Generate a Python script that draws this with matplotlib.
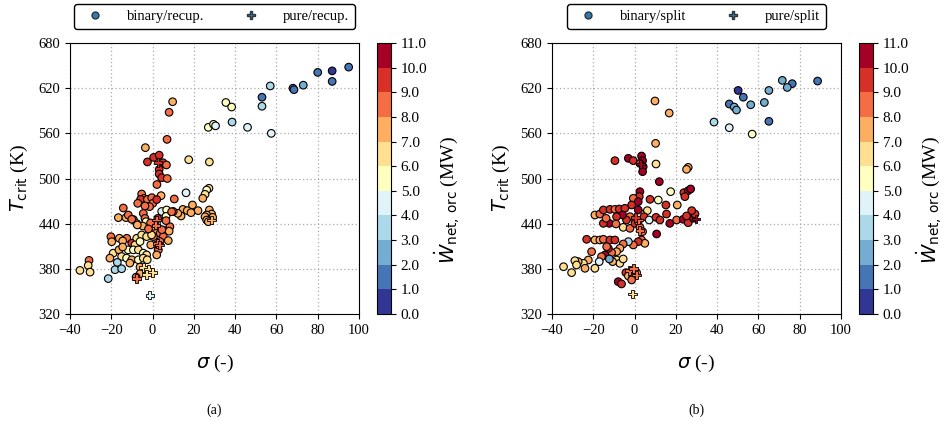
import numpy as np
import matplotlib
matplotlib.use('Agg')
import matplotlib.pyplot as plt
from matplotlib.colors import BoundaryNorm
from matplotlib.lines import Line2D

plt.rcParams['font.family'] = ['Liberation Serif', 'DejaVu Serif']
plt.rcParams['mathtext.fontset'] = 'dejavusans'

# (a) binary fluids, recuperated cycle: sigma, T_crit, W_net
a_bin_sigma = [95, 87, 87, 80, 73, 68, 68.5, 57, 53, 53, 38.5, 46, 57.5, 35.5, 38.3, 27, 29.5, 30.5,
               17.5, 27.5, 9.7, 8, 7, -3.5, -2.5, 0.5, 3.2, 5, 6.7, 3.2, 3.2, 4.4, 7.1, 2.1,
               16.2, 27.3, 26.2, 25.4, 24.3, 10.5, 4.1, -5.3, -4.2, -5.8, -7.2, -2.5, -0.4, 0.1, -1.5, -3.7, 2.0,
               -14.2, -16.6, -12.9, -9.3, -7.7, -11.8, -10.1, -4.5, -3.7, -3.2, -4.8, -7.4,
               14.7, 16.8, 19.3, 22.0, 18.6, 13.8, 12.2, 27.5, 28.6, 26.2, 29.1, 25.4, 26.2, 27,
               4.4, 6.8, 10.0, 5.5, 6.5, 8.4, 1.2, 3.6, 5.2, 7.6, 3.6, 2, 2.8, 2, -0.9, 0.4, 9.2,
               -20.2, -19.8, -16.1, -12.5, -14.5, -10.1, -7.7, -5.3, -2.9, -0.5, -8.5, -6.1,
               -11.8, -9.3, -6.9, -4.5, -2.9, -19.1, -20.7, -16.3, -15, -12.6, -10.1, -6.9, -4.5, -2.6, -11.0,
               -17.1, -18.2, -15, -21.5, -30.8, -35.2, -31.2, -30.3, -6.1, -6.1, -8, -14.5,
               0.5, 2.5, 6.5, 8, -1, 4.5, -2]
a_bin_tcrit = [648, 643, 629, 641, 624, 620, 618, 623, 608, 596, 575, 568, 560, 601, 595, 568, 572, 570,
               525, 522, 602, 588, 552, 541, 522, 528, 531, 521, 518, 512, 506, 501, 500, 492,
               481, 487, 484.7, 479, 473.7, 472.8, 477.2, 479.4, 473.6, 472.3, 467, 472.3, 474.5, 467, 462.6, 463.5, 472,
               460.8, 448, 448, 445.4, 440.1, 451.5, 445.8, 453.6, 447, 442.6, 436.9, 438.3,
               459, 457.3, 464.8, 457.3, 454.6, 450.2, 453.7, 458.2, 452.8, 451.5, 448.4, 449.2, 444.8, 442.6,
               456.2, 458.2, 456.2, 440.5, 449.7, 436, 431.6, 427.2, 422.8, 417.5, 416.2, 411.8, 405.2, 398.5, 411.8, 422.8, 455.8,
               422.7, 416, 420.6, 420.6, 417, 414, 420.6, 425, 422.8, 425, 411.8, 416.2,
               405.2, 405.2, 405.2, 400.8, 398.5, 400.8, 394.2, 405.2, 396.4, 394.2, 392, 392, 394.2, 392, 387.6,
               388.5, 378.8, 380.1, 367, 391.2, 377.9, 384.5, 375.6, 382.3, 373.4, 369, 409,
               436.5, 447, 444, 430, 441, 432, 433]
a_bin_w = [1.5, 0.5, 1.5, 1.5, 2.5, 1.5, 1.5, 3.5, 1.5, 3.0, 3.5, 4.5, 4.5, 5.5, 5.5, 5.5, 5.5, 4.5,
           6.5, 6.5, 7.5, 8.5, 8.5, 7.5, 9.5, 9.5, 9.5, 9.5, 8.5, 9.5, 9.5, 9.5, 8.5, 8.5,
           4.5, 6.5, 5.5, 6.5, 7.5, 8.5, 7.5, 8.5, 8.5, 9.5, 8.5, 8.5, 8.5, 8.5, 8.5, 8.5, 9.5,
           8.5, 7.5, 7.5, 8.5, 7.5, 8.5, 8.5, 8.5, 8.5, 5.5, 7.5, 7.5,
           7.5, 7.5, 7.5, 7.5, 7.5, 7.5, 7.5, 7.5, 7.5, 7.5, 7.5, 7.5, 7.5, 7.5,
           4.5, 5.5, 8.5, 4.5, 5.5, 8.5, 7.5, 8.5, 8.5, 7.5, 8.5, 8.5, 8.5, 7.5, 7.5, 8.5, 8.5,
           8.5, 7.5, 7.5, 8.5, 7.5, 9.5, 6.5, 6.5, 6.5, 6.5, 6.5, 5.5,
           5.5, 5.5, 6.5, 5.5, 6.5, 6.5, 7.5, 7.5, 6.5, 5.5, 7.5, 5.5, 6.5, 6.5, 7.5,
           3.5, 3.5, 3.5, 3.5, 8.5, 6.5, 6.5, 6.5, 7.5, 7.5, 8.5, 7.5,
           7.5, 9.5, 8.5, 7.5, 8.5, 8.5, 8.5]

# (a) pure fluids, recuperated cycle
a_pure_sigma = [2.6, 2.0, 1.6, 2.3, 3.4, 28.6, -7.7, -4.5, -2.1, 0, -2.9, -1.3]
a_pure_tcrit = [521, 444.8, 438, 414, 411.7, 444.8, 367, 381.4, 379.2, 374.8, 372.5, 345]
a_pure_w = [9.5, 8.5, 8.5, 8.5, 8.5, 7.5, 8.5, 6.5, 6.5, 6.5, 6.5, 4.5]

# (b) binary fluids, split cycle
b_bin_sigma = [88.7, 71.6, 76.4, 74, 65.1, 50.2, 52.7, 45.9, 48.3, 49.4, 56.3, 62.9, 65.1, 38.5, 45.9, 57,
               9.9, 16.8, 10.2, -9.5, -3.0, -0.6, 3.4, 3.9, 2.6, 4.2, 3.9, 10.4, 26.0, 25.2, 12.0,
               17.5, 23.9, 26.0, 27.2, 24.4, 20.7, 11.5, 15.2, 2.6, 2.3, -0.6, 1.8, -1.4, 7.5,
               6.2, 3.0, 1.8, 4.6, 7.1, 10.4, 12.3, 15.5, 17.1, 20.4, 23.6, 26.0, 28.5, 29.3, 27.7, 25.2, 10.7,
               -19.2, -16.8, -15.1, -11.9, -9.5, -7.4, -4.7, -2.2, -3.9, -5.8, -8.7, -12.2, -15.1, -13.8,
               -9.0, -5.5, -2.2, 0.2, 1.8, 2.6, 3.9, 3.4, 5.0, 1.8, -0.6, -3.0, -5.5, -7.1, -8.7,
               -11.1, -12.7, -14.3, -16.0, -20.8, -23.2, -19.2, -16.8, -15.1, -11.9, -9.5, -13.5,
               -22.4, -24.8, -27.3, -28.9, -24.0, -19.2, -28.1, -30.5, -34.4, -8.7, -7.1, -5.5, -10.6,
               -12.2, -17.1, -4.2, 1.0, -3.0, -0.9, -7.9, -6.3, -1.4]
b_bin_tcrit = [629.5, 630.4, 626, 621, 617, 617, 608, 599, 595, 591, 598, 601, 576, 575, 567.5, 559,
               603, 587, 546.7, 523.7, 526.8, 523.7, 529.9, 523.7, 520.1, 515.7, 509.1, 519.3, 514.8, 512.2, 495.8,
               482.5, 481.2, 483.8, 486.1, 475.9, 464.8, 471.4, 464.8, 482.5, 475.9, 473.7, 469.2, 464.8, 472.3,
               457.3, 452.8, 458.2, 449.3, 444.9, 448.4, 444.9, 452.8, 440.4, 444.9, 445.8, 441.3, 447.1, 452.8, 457.3, 450.2, 426.3,
               451.5, 452.8, 458.2, 459.0, 459.0, 459.5, 460.4, 449.3, 444.9, 451.5, 449.3, 440.4, 440.4, 447.1,
               439.6, 435.1, 433.8, 440.4, 442.7, 435.1, 429.4, 418.3, 413.9, 416.1, 411.7, 416.1, 413.0, 407.2, 402.8,
               401.5, 407.2, 398.4, 396.2, 402.8, 419.2, 418.3, 418.3, 419.2, 418.3, 418.3, 409.4,
               391.7, 387.3, 389.5, 390.8, 380.7, 380.7, 385.1, 374.9, 382.8, 391.7, 387.3, 393.1, 389.5,
               393.1, 389.5, 374.9, 374.9, 370.5, 368.7, 362.9, 359.9, 365.2]
b_bin_w = [1.5, 2.5, 1.5, 2.5, 2.5, 0.5, 1.5, 1.5, 2.5, 2.5, 2.5, 2.5, 1.5, 3.5, 4.5, 5.5,
           7.5, 7.5, 7.5, 9.5, 10.5, 9.5, 10.5, 10.5, 9.5, 10.5, 10.5, 6.5, 7.5, 7.5, 10.5,
           5.5, 9.5, 10.5, 10.5, 9.5, 7.5, 5.5, 9.5, 10.5, 9.5, 8.5, 10.5, 9.5, 9.5,
           6.5, 5.5, 10.5, 9.5, 4.5, 9.5, 9.5, 9.5, 10.5, 8.5, 10.5, 9.5, 10.5, 9.5, 9.5, 9.5, 10.5,
           7.5, 8.5, 9.5, 9.5, 8.5, 9.5, 9.5, 8.5, 9.5, 10.5, 9.5, 10.5, 9.5, 8.5,
           8.5, 6.5, 8.5, 9.5, 8.5, 8.5, 8.5, 8.5, 7.5, 9.5, 8.5, 3.5, 8.5, 7.5, 7.5,
           8.5, 9.5, 10.5, 8.5, 8.5, 9.5, 7.5, 7.5, 8.5, 9.5, 9.5, 8.5,
           7.5, 6.5, 7.5, 6.5, 7.5, 6.5, 6.5, 6.5, 6.5, 6.5, 6.5, 6.5, 7.5,
           2.5, 4.5, 9.5, 7.5, 7.5, 7.5, 10.5, 9.5, 8.5]

# (b) pure fluids, split cycle
b_pure_sigma = [3.0, 29.8, -2.6, -0.6, 1.0, -0.9, 1.8, 2.6, 0.5]
b_pure_tcrit = [519.3, 446.2, 377.6, 380.7, 371.8, 346.6, 444.9, 431, 448]
b_pure_w = [10.5, 10.5, 8.5, 8.5, 8.5, 6.5, 8.5, 8.5, 9.5]

levels = np.arange(0, 12, 1)
cmap = plt.get_cmap('RdYlBu_r', 11)
norm = BoundaryNorm(levels, cmap.N)

fig = plt.figure(figsize=(9.53, 4.22), dpi=100)
ax_a = fig.add_axes([0.0735, 0.256, 0.3032, 0.642])
cax_a = fig.add_axes([0.3955, 0.256, 0.0147, 0.642])
ax_b = fig.add_axes([0.5792, 0.256, 0.3032, 0.642])
cax_b = fig.add_axes([0.9012, 0.256, 0.0147, 0.642])

panels = [(ax_a, cax_a, a_bin_sigma, a_bin_tcrit, a_bin_w, a_pure_sigma, a_pure_tcrit, a_pure_w,
           'binary/recup.', 'pure/recup.', '(a)'),
          (ax_b, cax_b, b_bin_sigma, b_bin_tcrit, b_bin_w, b_pure_sigma, b_pure_tcrit, b_pure_w,
           'binary/split', 'pure/split', '(b)')]

for ax, cax, bx, by, bw, px, py, pw, lab1, lab2, tag in panels:
    sc = ax.scatter(bx, by, c=bw, cmap=cmap, norm=norm, s=30, edgecolors='k', linewidths=0.8, zorder=3)
    ax.scatter(px, py, c=pw, cmap=cmap, norm=norm, s=38, marker='P', edgecolors='k', linewidths=0.6, zorder=4)
    ax.set_xlim(-40, 100)
    ax.set_ylim(320, 680)
    ax.set_xticks(np.arange(-40, 101, 20))
    ax.set_yticks(np.arange(320, 681, 60))
    ax.tick_params(labelsize=10.5)
    ax.grid(True, linestyle=(0, (1, 2)), color='#aaaaaa', linewidth=0.9, zorder=0)
    ax.set_xlabel(r'$\sigma$ (-)', fontsize=14, labelpad=12)
    ax.set_ylabel(r'$T_\mathrm{crit}$ (K)', fontsize=14, labelpad=6)
    cb = fig.colorbar(sc, cax=cax, ticks=levels, format='%.1f')
    cb.ax.tick_params(labelsize=11)
    cb.set_label(r'$\dot{W}_\mathrm{net,\,orc}$ (MW)', fontsize=14)
    cb.ax.yaxis.set_label_coords(4.0, 0.42)
    handles = [Line2D([], [], marker='o', linestyle='none', markerfacecolor='#2b7bba',
                      markeredgecolor='#333333', markersize=5),
               Line2D([], [], marker='P', linestyle='none', markerfacecolor='#2b7bba',
                      markeredgecolor='#333333', markersize=6)]
    leg = ax.legend(handles, [lab1, lab2], loc='lower center', bbox_to_anchor=(0.5, 1.025), ncol=2,
                    fontsize=10.5, frameon=True, fancybox=True, edgecolor='black', framealpha=1,
                    columnspacing=2.2, handletextpad=1.2, borderpad=0.4)
    leg.get_frame().set_linewidth(1.0)
    pos = ax.get_position()
    fig.text(pos.x0 + pos.width / 2, 0.028, tag, ha='center', va='center', fontsize=10)

fig.savefig('out.png', dpi=100)
